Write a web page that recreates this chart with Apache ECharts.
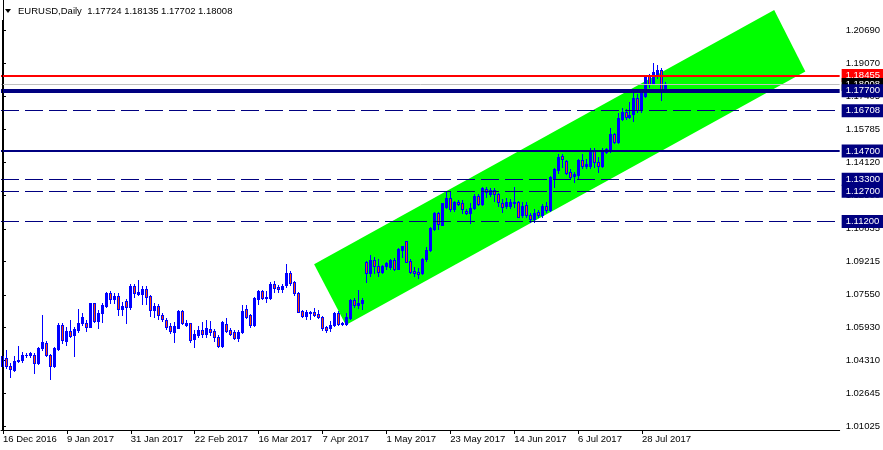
<!DOCTYPE html>
<html><head><meta charset="utf-8">
<script src="https://cdn.jsdelivr.net/npm/echarts@6/dist/echarts.min.js"></script>
<style>html,body{margin:0;padding:0;background:#fff}#c{width:883px;height:450px}</style>
</head><body><div id="c"></div>
<script>
const symbolName = 'EURUSD,Daily';
const headerValues = ['1.17724', '1.18135', '1.17702', '1.18008'];

const opens = [1.0401,1.0441,1.0400,1.0381,1.0425,1.0431,1.0455,1.0458,1.0456,1.0414,
1.0490,1.0514,1.0454,1.0401,1.0486,1.0605,1.0525,1.0575,1.0553,1.0580,
1.0613,1.0613,1.0596,1.0713,1.0626,1.0663,1.0700,1.0763,1.0733,1.0750,
1.0683,1.0726,1.0693,1.0798,1.0758,1.0757,1.0785,1.0748,1.0680,1.0700,
1.0655,1.0630,1.0601,1.0572,1.0592,1.0675,1.0605,1.0613,1.0533,1.0557,
1.0582,1.0559,1.0586,1.0575,1.0547,1.0500,1.0610,1.0582,1.0569,1.0539,
1.0569,1.0685,1.0655,1.0605,1.0733,1.0774,1.0738,1.0740,1.0807,1.0796,
1.0782,1.0805,1.0862,1.0817,1.0763,1.0675,1.0652,1.0667,1.0667,1.0660,
1.0646,1.0596,1.0588,1.0605,1.0666,1.0611,1.0611,1.0640,1.0731,1.0704,
1.0712,1.0917,1.0862,1.0928,1.0898,1.0870,1.0896,1.0894,1.0929,1.0883,
1.0976,1.1023,1.0925,1.0875,1.0870,1.0862,1.0932,1.0978,1.1082,1.1161,
1.1103,1.1190,1.1236,1.1180,1.1216,1.1211,1.1172,1.1164,1.1186,1.1247,
1.1207,1.1280,1.1258,1.1276,1.1255,1.1210,1.1195,1.1197,1.1210,1.1216,
1.1150,1.1200,1.1150,1.1134,1.1167,1.1150,1.1197,1.1177,1.1336,1.1376,
1.1447,1.1421,1.1366,1.1345,1.1349,1.1426,1.1398,1.1398,1.1475,1.1415,
1.1398,1.1465,1.1476,1.1556,1.1514,1.1630,1.1666,1.1641,1.1653,1.1736,
1.1675,1.1746,1.1845,1.1807,1.1853,1.1873,1.17724];
const closes = [1.0451,1.0402,1.0385,1.0425,1.0432,1.0456,1.0457,1.0464,1.0414,1.0490,
1.0520,1.0454,1.0401,1.0489,1.0605,1.0530,1.0575,1.0552,1.0584,1.0613,
1.0643,1.0596,1.0713,1.0626,1.0663,1.0705,1.0763,1.0733,1.0750,1.0683,
1.0700,1.0693,1.0798,1.0765,1.0770,1.0783,1.0745,1.0680,1.0700,1.0655,
1.0633,1.0594,1.0575,1.0602,1.0675,1.0613,1.0613,1.0530,1.0560,1.0582,
1.0562,1.0590,1.0572,1.0544,1.0502,1.0620,1.0575,1.0562,1.0539,1.0572,
1.0675,1.0646,1.0605,1.0741,1.0774,1.0738,1.0742,1.0807,1.0790,1.0782,
1.0797,1.0865,1.0813,1.0763,1.0671,1.0652,1.0669,1.0665,1.0655,1.0643,
1.0588,1.0580,1.0604,1.0664,1.0609,1.0615,1.0646,1.0731,1.0704,1.0716,
1.0727,1.0865,1.0928,1.0898,1.0870,1.0899,1.0912,1.0929,1.0883,1.0983,
1.0998,1.0920,1.0870,1.0865,1.0860,1.0932,1.0978,1.1086,1.1161,1.1106,
1.1210,1.1235,1.1180,1.1218,1.1208,1.1181,1.1164,1.1185,1.1247,1.1207,
1.1285,1.1265,1.1276,1.1258,1.1215,1.1193,1.1215,1.1215,1.1218,1.1144,
1.1198,1.1150,1.1132,1.1160,1.1150,1.1196,1.1177,1.1343,1.1380,1.1443,
1.1430,1.1360,1.1342,1.1355,1.1426,1.1398,1.1404,1.1475,1.1414,1.1398,
1.1469,1.1478,1.1554,1.1514,1.1636,1.1666,1.1641,1.1650,1.1736,1.1675,
1.1758,1.1845,1.1802,1.1862,1.1873,1.1775,1.18008];
const lows = [1.0394,1.0390,1.0348,1.0378,1.0422,1.0423,1.0447,1.0447,1.0368,1.0410,
1.0480,1.0450,1.0338,1.0398,1.0481,1.0517,1.0506,1.0547,1.0451,1.0572,
1.0605,1.0577,1.0594,1.0621,1.0588,1.0622,1.0696,1.0713,1.0713,1.0656,
1.0655,1.0617,1.0683,1.0746,1.0753,1.0710,1.0708,1.0650,1.0645,1.0634,
1.0625,1.0584,1.0566,1.0521,1.0590,1.0608,1.0600,1.0521,1.0494,1.0547,
1.0547,1.0545,1.0557,1.0525,1.0495,1.0494,1.0568,1.0555,1.0535,1.0524,
1.0564,1.0638,1.0597,1.0601,1.0708,1.0734,1.0718,1.0733,1.0770,1.0767,
1.0767,1.0795,1.0802,1.0755,1.0668,1.0645,1.0636,1.0636,1.0650,1.0639,
1.0580,1.0569,1.0573,1.0600,1.0605,1.0605,1.0605,1.0636,1.0696,1.0688,
1.0683,1.0820,1.0849,1.0862,1.0849,1.0865,1.0882,1.0882,1.0878,1.0882,
1.0945,1.0917,1.0862,1.0849,1.0837,1.0859,1.0925,1.0975,1.1075,1.1081,
1.1100,1.1185,1.1174,1.1174,1.1200,1.1161,1.1157,1.1110,1.1181,1.1202,
1.1202,1.1243,1.1247,1.1222,1.1196,1.1165,1.1185,1.1188,1.1193,1.1140,
1.1140,1.1144,1.1119,1.1117,1.1144,1.1144,1.1169,1.1174,1.1293,1.1359,
1.1393,1.1354,1.1331,1.1314,1.1331,1.1385,1.1385,1.1385,1.1393,1.1368,
1.1393,1.1459,1.1467,1.1509,1.1509,1.1625,1.1630,1.1633,1.1620,1.1666,
1.1666,1.1740,1.1790,1.1802,1.1832,1.1725,1.17702];
const highs = [1.0476,1.0480,1.0415,1.0450,1.0500,1.0472,1.0464,1.0468,1.0467,1.0497,
1.0655,1.0525,1.0461,1.0497,1.0617,1.0613,1.0597,1.0630,1.0597,1.0683,
1.0663,1.0630,1.0716,1.0716,1.0680,1.0713,1.0771,1.0774,1.0766,1.0762,
1.0721,1.0735,1.0809,1.0810,1.0829,1.0801,1.0801,1.0752,1.0716,1.0708,
1.0666,1.0638,1.0613,1.0621,1.0679,1.0679,1.0630,1.0616,1.0578,1.0600,
1.0620,1.0628,1.0623,1.0585,1.0555,1.0624,1.0638,1.0592,1.0580,1.0580,
1.0702,1.0702,1.0658,1.0746,1.0777,1.0780,1.0776,1.0820,1.0825,1.0806,
1.0807,1.0906,1.0872,1.0825,1.0770,1.0680,1.0681,1.0675,1.0688,1.0678,
1.0651,1.0602,1.0623,1.0668,1.0673,1.0620,1.0666,1.0735,1.0740,1.0777,
1.0740,1.0921,1.0953,1.0941,1.0932,1.0903,1.0920,1.0932,1.0937,1.0986,
1.1000,1.1024,1.0932,1.0895,1.0887,1.0937,1.0991,1.1094,1.1169,1.1169,
1.1213,1.1268,1.1268,1.1223,1.1227,1.1227,1.1180,1.1210,1.1257,1.1257,
1.1290,1.1290,1.1285,1.1285,1.1262,1.1232,1.1235,1.1232,1.1293,1.1222,
1.1215,1.1215,1.1160,1.1182,1.1177,1.1205,1.1215,1.1348,1.1387,1.1454,
1.1454,1.1426,1.1381,1.1368,1.1431,1.1454,1.1431,1.1487,1.1484,1.1442,
1.1484,1.1487,1.1583,1.1558,1.1658,1.1683,1.1680,1.1715,1.1765,1.1752,
1.1766,1.1849,1.1852,1.1910,1.1898,1.1882,1.18135];

const firstDate = [2016, 11, 16];
const totalSlots = 210;
const labelEvery = 16;

const yTicks = [1.01025,1.02645,1.04310,1.05930,1.07550,1.09215,1.10835,1.12500,1.14120,1.15785,1.17405,1.19070,1.20690];
const yMin = 1.00824, yMax = 1.22217;

const levelRed = [1.18455];
const levelBid = [1.18008];
const levelThick = [1.17700];
const levelSolid = [1.14700];
const levelDashed = [1.16708, 1.13300, 1.12700, 1.11200];

const channelX = [77.9, 85.85, 200.9, 193.1];
const channelY = [1.09068, 1.06048, 1.18660, 1.21720];

const MONTHS = ['Jan','Feb','Mar','Apr','May','Jun','Jul','Aug','Sep','Oct','Nov','Dec'];
const categories = [];
(function(){
  const d = new Date(Date.UTC(firstDate[0], firstDate[1], firstDate[2]));
  while (categories.length < totalSlots) {
    const wd = d.getUTCDay();
    if (wd !== 0 && wd !== 6) categories.push(d.getUTCDate() + ' ' + MONTHS[d.getUTCMonth()] + ' ' + d.getUTCFullYear());
    d.setUTCDate(d.getUTCDate() + 1);
  }
})();

const candleData = opens.map((o, i) => [i, o, closes[i], lows[i], highs[i]]);
const nBars = opens.length;

const FONT = "'Liberation Sans', Arial, sans-serif";
const FS = 9.5;
const NAVY = '#000080';
const BULL = '#0000ff';
const BEAR_CORE = '#ff4500';

function lvl(v, lineStyle, bg) {
  return {
    yAxis: v,
    lineStyle: lineStyle,
    label: { show: true, position: 'end', distance: 2, formatter: () => v.toFixed(5),
      backgroundColor: bg, color: '#fff', padding: [2, 4, 1, 4], fontSize: FS, fontFamily: FONT }
  };
}
const markData = [];
levelDashed.forEach(v => markData.push(lvl(v, { color: NAVY, width: 1, type: [18, 6] }, NAVY)));
levelSolid.forEach(v => markData.push(lvl(v, { color: NAVY, width: 2, type: 'solid' }, NAVY)));
levelRed.forEach(v => markData.push(lvl(v, { color: '#ff0000', width: 2, type: 'solid' }, '#ff0000')));
levelBid.forEach(v => markData.push(lvl(v, { color: '#c0c0c0', width: 1, type: 'solid' }, '#000000')));
levelThick.forEach(v => markData.push(lvl(v, { color: NAVY, width: 4, type: 'solid' }, NAVY)));

function renderCandle(params, api) {
  const i = api.value(0), o = api.value(1), c = api.value(2), l = api.value(3), h = api.value(4);
  const po = api.coord([i, o]), pc = api.coord([i, c]), pl = api.coord([i, l]), ph = api.coord([i, h]);
  const xc = Math.floor(po[0]);
  const yo = Math.round(po[1]), yc = Math.round(pc[1]), yl = Math.round(pl[1]), yh = Math.round(ph[1]);
  const top = Math.min(yo, yc), bot = Math.max(yo, yc);
  const children = [
    { type: 'rect', shape: { x: xc, y: yh, width: 1, height: Math.max(yl - yh + 1, 1) }, style: { fill: BULL } },
    { type: 'rect', shape: { x: xc - 1, y: top, width: 3, height: Math.max(bot - top + 1, 1) }, style: { fill: BULL } }
  ];
  if (c < o && bot - top >= 2) {
    children.push({ type: 'rect', shape: { x: xc, y: top + 1, width: 1, height: bot - top - 1 }, style: { fill: BEAR_CORE } });
  }
  return { type: 'group', children: children };
}

const chart = echarts.init(document.getElementById('c'), null, { renderer: 'canvas' });
const showIdx = (i) => i % labelEvery === 0 && i < nBars;
chart.setOption({
  animation: false,
  backgroundColor: '#ffffff',
  textStyle: { fontFamily: FONT },
  grid: { left: 1, right: 43, top: 0, bottom: 20, containLabel: false },
  xAxis: [{
    type: 'category', data: categories, boundaryGap: true,
    axisLine: { show: true, lineStyle: { color: '#000', width: 1 } },
    axisTick: { show: true, alignWithLabel: true, interval: (i) => showIdx(i), length: 4, lineStyle: { color: '#000' } },
    axisLabel: { show: true, interval: (i) => showIdx(i), align: 'left', margin: 4, color: '#000', fontSize: FS, fontFamily: FONT },
    splitLine: { show: false }
  }, {
    type: 'value', min: -0.5, max: totalSlots - 0.5, show: false, gridIndex: 0
  }],
  yAxis: {
    type: 'value', position: 'right', min: yMin, max: yMax, scale: true,
    axisLine: { show: true, lineStyle: { color: '#000', width: 1 } },
    axisTick: { show: true, customValues: yTicks, length: 3, lineStyle: { color: '#000' } },
    axisLabel: { show: true, customValues: yTicks, formatter: (v) => v.toFixed(5), margin: 6, color: '#000', fontSize: FS, fontFamily: FONT },
    splitLine: { show: false }
  },
  series: [{
    type: 'custom', xAxisIndex: 1, yAxisIndex: 0, z: 1, silent: true,
    data: [0],
    renderItem: (params, api) => {
      const pts = channelX.map((x, k) => api.coord([x, channelY[k]]));
      return { type: 'polygon', shape: { points: pts }, style: { fill: '#00ff00', stroke: null } };
    }
  }, {
    type: 'custom', xAxisIndex: 0, yAxisIndex: 0, z: 3, silent: true,
    data: candleData,
    encode: { x: 0, y: [1, 2, 3, 4] },
    renderItem: renderCandle
  }, {
    type: 'line', xAxisIndex: 0, yAxisIndex: 0, z: 5, data: [], clip: false, silent: true,
    markLine: { silent: true, precision: 5, symbol: ['none', 'none'], animation: false, data: markData }
  }],
  graphic: [
    { type: 'line', shape: { x1: 2.5, y1: 20, x2: 2.5, y2: 430 }, style: { stroke: '#000', lineWidth: 1 }, z: 10 },
    { type: 'polygon', shape: { points: [[5, 9], [11, 9], [8, 13]] }, style: { fill: '#000' }, z: 10 },
    { type: 'text', left: 18, top: 6, z: 10,
      style: { text: symbolName + '  ' + headerValues.join(' '), font: FS + 'px ' + FONT, fill: '#000' } }
  ]
});
</script>
</body></html>
